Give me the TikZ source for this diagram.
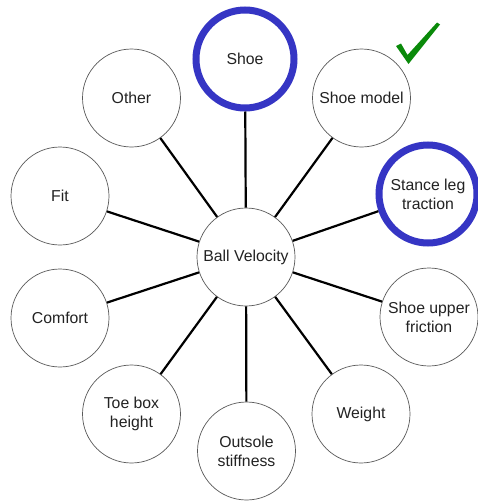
\documentclass[tikz,border=0pt]{standalone}
\usepackage{fontspec}
\setmainfont{Liberation Sans}
\definecolor{ringblue}{HTML}{3535C4}
\definecolor{txt}{HTML}{222222}
\definecolor{checkgreen}{HTML}{0A8A0A}
\tikzset{
  x=1pt, y=-1pt,
  bub/.style={circle, draw=black!65, line width=0.7pt, minimum size=98pt, inner sep=0pt,
    align=center, text=txt, font=\fontsize{15.8}{19}\selectfont, fill=white},
  hot/.style={bub, draw=ringblue, line width=7pt},
  link/.style={line width=2.2pt, black}
}
\begin{document}
\begin{tikzpicture}
\useasboundingbox (0,0) rectangle (477,501);
\node[bub] (ball) at (246,257) {Ball Velocity};
\node[hot] (shoe) at (245,59) {Shoe};
\node[bub] (model) at (361.5,98) {Shoe model};
\node[hot] (stance) at (428,194) {Stance leg\\ traction};
\node[bub] (upper) at (429,317) {Shoe upper\\ friction};
\node[bub] (weight) at (361,414) {Weight};
\node[bub] (outsole) at (246.5,451) {Outsole\\stiffness};
\node[bub] (toe) at (131.5,414) {Toe box\\height};
\node[bub] (comfort) at (60,318) {Comfort};
\node[bub] (fit) at (60,196) {Fit};
\node[bub] (other) at (131.5,98) {Other};
\foreach \n in {shoe,model,stance,upper,weight,outsole,toe,comfort,fit,other}
  \draw[link] (ball) -- (\n);
\fill[checkgreen] (396,46) -- (401,43.5) -- (407.5,55) -- (437,22.5) -- (440,24.5) -- (408.5,64) -- cycle;
\end{tikzpicture}
\end{document}
